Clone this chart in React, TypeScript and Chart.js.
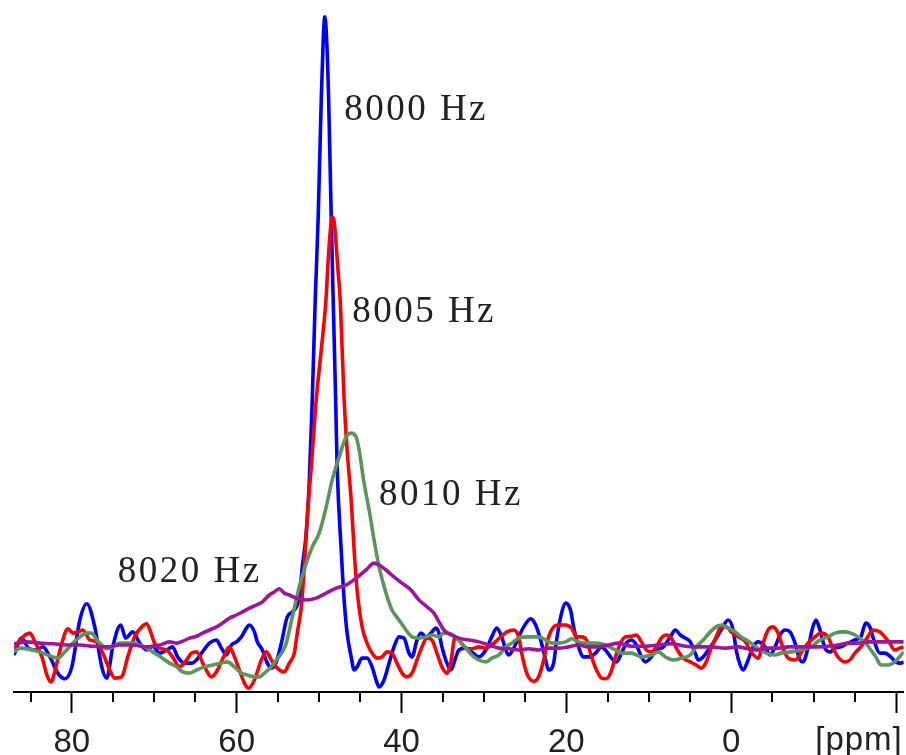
import React, { useEffect, useRef } from "react";
import { Chart, registerables } from "chart.js";

Chart.register(...registerables);

// chemical shift (ppm), intensity (a.u.)
const blue8000: [number, number][] = [
  [87.02, -1.6], [86.09, 1.1], [85.29, -0.5], [84.48, -0.8], [83.51, -0.3], [82.66, -1.9], [81.7, -4.5], [80.85, -5.4],
  [80.0, -3.5], [79.03, 4.0], [78.19, 6.6], [77.22, 2.9], [76.37, -3.5], [75.76, -5.3], [75.04, -0.3], [74.07, 3.2],
  [73.47, 1.1], [72.62, 2.1], [71.77, 0.3], [70.92, -0.8], [70.2, -0.2], [69.35, -1.3], [68.5, -0.8], [67.78, -0.3],
  [67.17, -1.9], [66.32, -2.9], [65.48, -2.9], [64.87, -2.4], [64.15, -1.1], [63.3, 0.3], [62.45, 0.8], [61.85, -0.5],
  [61.24, -1.6], [60.64, 0], [60.03, 0.5], [59.43, 1.3], [58.82, 2.7], [58.46, 3.2], [57.85, 2.1], [57.49, 0.5],
  [56.88, -0.8], [56.28, -2.9], [55.79, -3.7], [55.19, -2.7], [54.58, 0.3], [53.86, 4.5], [53.01, 5.6], [52.41, 7.7],
  [52.04, 12.5], [51.56, 17.9], [51.2, 25.9], [50.83, 39.2], [50.47, 55.2], [50.11, 68.5], [49.74, 87.2], [49.5, 96.8],
  [49.3, 100.5], [49.08, 96.8], [48.84, 87.2], [48.53, 68.5], [48.29, 55.2], [47.99, 39.2], [47.81, 28.5], [47.32, 15.2],
  [46.96, 7.2], [46.6, 1.9], [46.11, -1.9], [45.75, -4.0], [45.39, -3.5], [44.78, -2.1], [44.18, -2.1], [43.57, -3.5],
  [43.09, -5.6], [42.72, -6.7], [42.12, -5.6], [41.51, -2.9], [40.91, -0.3], [40.3, 1.3], [39.7, 1.1], [39.09, -1.3],
  [38.73, -1.9], [38.12, 0.8], [37.64, 1.9], [37.04, 1.3], [36.43, 1.9], [35.82, 2.7], [35.46, 1.9], [35.1, -0.3],
  [34.49, -2.9], [34.01, -4.0], [33.4, -1.9], [33.04, -0.8], [32.19, -0.5], [31.47, -1.1], [30.62, -1.9], [29.77, -0.8],
  [29.05, 1.3], [28.44, 2.7], [27.84, 1.3], [27.35, -0.8], [26.99, -1.6], [26.38, -0.5], [25.78, 1.3], [25.17, 2.9],
  [24.33, 4.2], [23.72, 3.2], [23.12, 0.8], [22.51, -2.4], [22.15, -4.0], [21.54, -2.9], [21.18, 0.8], [20.58, 5.1],
  [20.09, 6.7], [19.49, 5.6], [19.12, 2.9], [18.52, -0.3], [17.91, -1.9], [17.07, -1.9], [16.46, -1.3], [15.73, -0.3],
  [15.13, -1.0], [14.52, -2.1], [13.92, -2.7], [13.31, -1.3], [12.71, 0.3], [12.1, 0.8], [11.5, 0], [10.89, -1.9],
  [10.41, -2.7], [9.8, -2.1], [9.08, -0.8], [8.23, -0.3], [7.38, 1.3], [6.78, 2.4], [6.17, 1.6], [5.57, 1.1],
  [4.96, 0.5], [4.36, -1.3], [3.99, -2.4], [3.39, -1.9], [2.78, -0.8], [1.94, 0.8], [1.21, 2.4], [0.36, 4.0],
  [-0.24, 2.4], [-0.61, -0.8], [-1.09, -3.2], [-1.45, -4.0], [-2.06, -2.4], [-2.66, -0.3], [-3.27, 0.5], [-4.12, -0.3],
  [-4.72, -1.6], [-5.33, -0.3], [-5.93, 1.6], [-6.54, 2.4], [-7.14, 2.1], [-7.75, 0.3], [-8.35, -2.4], [-8.71, -2.7],
  [-9.32, -0.5], [-9.92, 2.9], [-10.29, 4.0], [-10.77, 2.4], [-11.38, -0.5], [-11.98, -1.1], [-12.59, -0.5], [-13.31, -0.3],
  [-14.16, 0.3], [-15.01, 0.8], [-15.73, 1.3], [-16.34, 3.5], [-16.82, 2.9], [-17.43, 0.3], [-18.03, -1.3], [-18.64, -1.3],
  [-19.36, -1.9], [-19.97, -2.7], [-20.58, -2.9], [-20.94, -2.7],
];

const red8005: [number, number][] = [
  [86.9, -0.5], [86.29, 0.8], [85.08, 1.9], [84.48, 0.5], [83.63, -1.9], [83.03, -4.8], [82.54, -5.9], [81.82, -2.9],
  [81.21, 0.3], [80.48, 2.6], [79.88, 1.9], [79.27, 2.1], [78.67, 2.4], [77.82, 0.8], [76.98, 0.5], [76.25, -1.3],
  [75.4, -4.0], [74.8, -5.3], [73.95, -5.1], [73.22, -1.9], [72.38, 1.3], [71.53, 2.9], [70.92, 3.4], [70.44, 2.1],
  [69.96, 0.3], [69.35, -0.5], [68.5, -0.8], [67.78, -1.9], [66.93, -3.5], [66.08, -2.4], [65.48, -1.3], [64.87, -1.1],
  [63.9, -3.5], [63.06, -5.1], [62.33, -4.0], [61.48, -1.6], [60.88, -0.3], [60.27, -1.9], [59.67, -4.0], [59.06, -6.1],
  [58.58, -6.9], [57.85, -5.6], [57.01, -2.4], [56.4, -1.1], [55.79, -2.4], [55.07, -3.7], [54.22, -4.3], [53.62, -2.9],
  [53.01, -1.3], [52.65, 1.9], [52.16, 6.1], [51.8, 12.5], [51.44, 20.5], [50.95, 28.5], [50.35, 39.2], [49.74, 47.2],
  [49.17, 55.2], [48.9, 61.6], [48.65, 66.1], [48.41, 68.5], [48.17, 67.7], [47.93, 64.0], [47.69, 59.7], [47.44, 55.2],
  [47.2, 47.2], [46.96, 39.2], [46.6, 31.2], [46.11, 23.2], [45.75, 15.2], [45.39, 8.8], [44.78, 2.9], [44.18, 0.3],
  [43.57, -1.3], [42.97, -2.1], [42.36, -1.9], [41.76, -1.1], [41.15, -1.3], [40.55, -2.9], [39.94, -4.5], [39.33, -5.1],
  [38.73, -4.5], [38.12, -2.4], [37.52, -0.3], [36.91, 1.1], [36.31, 0.8], [35.7, -1.3], [35.1, -3.5], [34.49, -4.5],
  [34.01, -2.7], [33.53, 1.1], [33.04, 0.8], [32.19, -0.5], [31.47, -0.6], [30.62, -0.3], [29.77, -0.5], [29.05, 0],
  [27.96, 1.3], [27.23, 2.1], [26.38, 2.4], [25.78, 1.3], [25.42, -1.3], [24.81, -4.5], [23.96, -5.8], [23.36, -5.1],
  [22.75, -2.4], [22.15, 1.3], [21.54, 2.9], [20.94, 3.2], [20.09, 3.2], [19.36, 2.7], [18.76, 1.3], [18.15, 1.3],
  [17.55, 0.8], [16.94, -1.9], [16.34, -4.0], [15.73, -5.3], [15.25, -5.4], [14.64, -4.5], [14.04, -1.9], [13.43, 0.3],
  [12.83, 1.3], [12.1, 1.4], [11.5, 1.6], [10.89, 0.5], [10.29, -0.8], [9.68, -1.1], [9.08, -0.3], [8.47, 1.1],
  [7.87, 1.6], [7.26, 1.1], [6.66, -0.5], [5.81, -2.1], [4.96, -2.7], [4.24, -3.2], [3.63, -3.7], [3.03, -2.7],
  [2.42, -0.5], [1.82, 1.3], [1.21, 2.9], [0.61, 2.9], [0, 2.1], [-0.85, 1.3], [-1.69, 0.6], [-2.42, -1.1],
  [-3.27, -2.1], [-3.87, 0.3], [-4.48, 2.4], [-5.08, 2.9], [-5.69, 1.9], [-6.29, -0.5], [-6.9, -2.1], [-7.75, -2.4],
  [-8.47, -1.3], [-9.32, 0.3], [-10.17, 1.3], [-10.89, 1.9], [-11.74, 1.3], [-12.35, -0.5], [-12.95, -1.9], [-13.8, -2.7],
  [-14.4, -2.4], [-15.01, -1.3], [-15.73, -0.3], [-16.58, 1.3], [-17.19, 2.4], [-18.03, 2.1], [-18.64, 1.3], [-19.24, 0.3],
  [-19.85, -0.8], [-20.45, -0.5], [-20.94, -0.3],
];

const green8010: [number, number][] = [
  [87.02, -1.1], [86.29, -0.5], [84.72, -0.8], [83.51, -1.3], [82.3, -1.9], [81.7, -2.1], [80.85, -1.1], [79.88, 0.3],
  [79.03, 1.3], [78.19, 1.9], [77.58, 1.9], [76.98, 0.8], [76.37, 0], [75.76, -0.6], [75.04, -0.3], [74.19, 0.3],
  [73.34, 0.3], [72.62, 0.3], [71.77, 0], [70.92, -0.5], [70.2, -1.1], [69.35, -1.8], [68.14, -2.9], [67.29, -3.5],
  [66.57, -4.3], [65.72, -4.5], [64.87, -4.0], [63.9, -3.5], [62.94, -3.2], [61.85, -2.9], [61.12, -2.7], [60.27, -3.5],
  [59.43, -4.5], [58.7, -4.8], [57.85, -5.1], [57.25, -5.1], [56.64, -4.5], [55.79, -3.5], [55.07, -2.2], [54.46, -1.1],
  [53.98, 0.3], [53.25, 4.5], [52.41, 9.3], [51.56, 13.1], [50.83, 15.7], [49.99, 17.9], [49.14, 22.1], [48.41, 26.4],
  [47.56, 30.1], [46.72, 33.3], [46.11, 33.9], [45.51, 33.3], [45.14, 31.2], [44.54, 25.9], [43.93, 21.6], [43.33, 16.8],
  [42.72, 12.5], [41.88, 8.3], [41.15, 5.6], [40.3, 4.0], [39.46, 2.4], [38.73, 1.3], [37.88, 1.1], [37.04, 1.3],
  [36.31, 1.6], [35.46, 1.3], [34.86, 1.9], [34.01, 1.8], [33.04, 0.8], [32.19, -0.5], [31.47, -1.6], [30.62, -2.4],
  [29.77, -2.7], [29.05, -2.1], [28.2, -1.6], [27.35, -0.3], [26.63, 0.3], [25.78, 1.1], [24.57, 1.3], [23.36, 1.3],
  [22.51, 0.8], [21.79, 0.3], [20.94, 0.3], [20.09, 0.5], [19.36, 1.0], [18.52, 0.5], [17.67, 0.3], [16.46, 0.3],
  [15.25, 0], [14.04, -0.8], [13.31, -1.3], [12.1, -1.3], [10.89, -1.9], [9.68, -1.6], [8.84, -1.1], [7.99, -1.9],
  [7.02, -2.4], [6.05, -2.1], [4.96, -1.6], [4.24, -0.3], [3.39, 0.8], [2.54, 2.1], [1.82, 2.9], [1.21, 3.2],
  [0.36, 2.7], [-0.48, 2.1], [-1.21, 1.3], [-2.06, 0.6], [-2.9, -0.2], [-3.51, -0.8], [-4.24, -1.3], [-5.33, -1.6],
  [-6.05, -1.3], [-7.26, -1.1], [-8.47, -0.8], [-9.68, -0.3], [-10.77, 0.8], [-11.74, 1.3], [-12.59, 1.9], [-13.56, 2.1],
  [-14.52, 1.9], [-15.61, 1.1], [-16.34, 0.3], [-16.94, -0.8], [-17.55, -1.9], [-18.15, -3.2], [-19.0, -3.2], [-19.85, -2.7],
  [-20.94, -1.1],
];

const purple8020: [number, number][] = [
  [87.02, 0.2], [85.45, 0.5], [83.87, 0.3], [82.3, 0.2], [80.61, 0], [79.03, 0], [77.46, -0.2], [75.76, -0.3],
  [74.19, 0], [72.62, 0], [70.92, -0.3], [69.35, 0], [68.14, 0.5], [67.29, 0.3], [66.57, 0.6], [65.72, 1.1],
  [64.87, 1.4], [64.15, 1.9], [63.3, 2.4], [62.45, 2.9], [61.73, 3.5], [60.88, 4.3], [60.03, 4.8], [59.3, 5.3],
  [58.46, 5.9], [57.61, 6.4], [56.88, 6.9], [56.04, 8.0], [55.43, 8.5], [54.83, 9.0], [54.22, 8.3], [53.62, 8.0],
  [52.77, 7.5], [51.56, 7.2], [50.35, 7.5], [49.14, 8.3], [47.93, 9.1], [46.72, 9.6], [45.51, 10.7], [44.3, 12.0],
  [43.33, 13.1], [42.72, 12.8], [41.88, 12.0], [40.91, 10.9], [39.94, 9.9], [38.85, 8.8], [37.88, 7.2], [36.91, 6.1],
  [36.07, 5.1], [35.46, 3.7], [34.86, 2.4], [34.25, 1.8], [33.04, 1.1], [31.83, 0.8], [30.62, 0.5], [29.41, 0],
  [28.2, -0.5], [26.99, -0.6], [25.78, -0.8], [24.57, -0.6], [23.36, -0.8], [22.15, -0.5], [20.94, -0.5], [19.73, -0.3],
  [18.52, 0], [17.31, -0.3], [16.1, -0.3], [14.89, 0], [13.68, 0.3], [12.1, -0.2], [10.41, -0.2], [8.84, 0],
  [7.26, 0.2], [5.57, -0.2], [3.99, -0.3], [2.42, -0.3], [0.73, -0.5], [-0.85, -0.3], [-2.06, -0.6], [-3.27, -0.8],
  [-4.48, -0.5], [-5.69, -0.5], [-6.9, -0.3], [-8.11, -0.3], [-9.32, -0.3], [-10.53, -0.3], [-11.74, -0.2], [-12.95, 0],
  [-14.16, 0.3], [-15.37, 0.3], [-16.58, 0.5], [-18.15, 0.5], [-19.85, 0.5], [-20.94, 0.5],
];

const seriesNames = ["8000 Hz", "8005 Hz", "8010 Hz", "8020 Hz"];
const majorTicks = [80, 60, 40, 20, 0, -20];
const minorTicks = [85, 75, 70, 65, 55, 50, 45, 35, 30, 25, 15, 10, 5, -5, -10, -15];
const unitLabel = "[ppm]";
// text label anchors: [ppm of left edge, intensity of baseline]
const labelAnchors: [number, number][] = [
  [46.96, 84.0],
  [45.99, 51.7],
  [42.72, 22.4],
  [74.43, 10.1],
];

const X_MIN = -20.94;
const X_MAX = 87.02;
const Y_MIN = -7.52;
const Y_MAX = 101.6;

const tickFamily = '"Liberation Sans", Arial, sans-serif';
const tickSize = 33;
const labelFont = '37px "Liberation Serif", "Times New Roman", serif';

const extrasPlugin = {
  id: "extras",
  afterDraw(chart: any) {
    const ctx = chart.ctx;
    const xs = chart.scales.x;
    const ys = chart.scales.y;
    ctx.save();
    // minor ticks
    ctx.strokeStyle = "#000";
    ctx.lineWidth = 2;
    minorTicks.forEach((v) => {
      const px = Math.round(xs.getPixelForValue(v));
      ctx.beginPath();
      ctx.moveTo(px, xs.top);
      ctx.lineTo(px, xs.top + 10);
      ctx.stroke();
    });
    // unit label
    ctx.fillStyle = "#222";
    ctx.font = `${tickSize}px ${tickFamily}`;
    ctx.textAlign = "right";
    ctx.textBaseline = "middle";
    (ctx as any).letterSpacing = "1px";
    ctx.fillText(unitLabel, chart.chartArea.right - 1, xs.top + 49);
    // series labels
    ctx.font = labelFont;
    ctx.textAlign = "left";
    ctx.textBaseline = "alphabetic";
    (ctx as any).letterSpacing = "2.5px";
    labelAnchors.forEach(([ppm, inten], i) => {
      ctx.fillText(seriesNames[i], xs.getPixelForValue(ppm), ys.getPixelForValue(inten));
    });
    ctx.restore();
  },
};

export default function App() {
  const ref = useRef<HTMLCanvasElement | null>(null);
  useEffect(() => {
    if (!ref.current) return;
    const mk = (d: [number, number][], color: string, order: number, label: string) => ({
      label,
      data: d.map(([x, y]) => ({ x, y })),
      borderColor: color,
      borderWidth: 3.6,
      pointRadius: 0,
      fill: false,
      cubicInterpolationMode: "monotone" as const,
      order,
    });
    const chart = new Chart(ref.current, {
      type: "line",
      data: {
        datasets: [
          mk(blue8000, "#0000ff", 3, seriesNames[0]),
          mk(red8005, "#ff0000", 2, seriesNames[1]),
          mk(green8010, "#5a965a", 1, seriesNames[2]),
          mk(purple8020, "#a0149c", 0, seriesNames[3]),
        ],
      },
      options: {
        animation: false,
        responsive: false,
        layout: { padding: { left: 14, right: 0, top: 10, bottom: 0 } },
        plugins: { legend: { display: false }, tooltip: { enabled: false } },
        scales: {
          x: {
            type: "linear",
            reverse: true,
            min: X_MIN,
            max: X_MAX,
            afterBuildTicks: (scale: any) => {
              scale.ticks = majorTicks.map((v) => ({ value: v }));
            },
            afterFit: (scale: any) => {
              scale.height = 63;
            },
            ticks: {
              autoSkip: false,
              maxRotation: 0,
              padding: 10,
              color: "#222",
              font: { family: tickFamily, size: tickSize, lineHeight: 1.2 },
              callback: (v: any) => (Number(v) === -20 ? "" : String(v)),
            },
            grid: {
              display: true,
              drawOnChartArea: false,
              drawTicks: true,
              tickLength: 21,
              tickWidth: 2,
              tickColor: "#000",
            },
            border: { display: true, color: "#000", width: 2 },
          },
          y: {
            display: false,
            min: Y_MIN,
            max: Y_MAX,
          },
        },
      },
      plugins: [extrasPlugin],
    });
    return () => chart.destroy();
  }, []);
  return (
    <div style={{ position: "absolute", left: 0, top: 0, width: 906, height: 755, background: "#fff" }}>
      <canvas ref={ref} width={906} height={755} style={{ display: "block" }} />
    </div>
  );
}
